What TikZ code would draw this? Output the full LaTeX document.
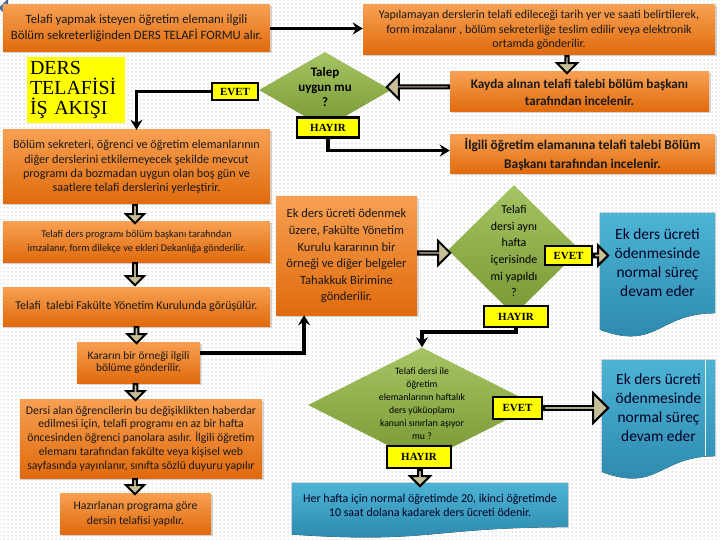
\documentclass[tikz,border=0pt]{standalone}
\usepackage{fontspec}
\setmainfont{Carlito}
\newfontfamily\tnr{Liberation Serif}
\usetikzlibrary{shapes.geometric,shapes.arrows,calc,patterns.meta,shadows,arrows.meta}
\definecolor{orTop}{HTML}{F7A052}
\definecolor{orBot}{HTML}{E06A0C}
\definecolor{grTop}{HTML}{A6C463}
\definecolor{grBot}{HTML}{789834}
\definecolor{blTop}{HTML}{4DB4D4}
\definecolor{blBot}{HTML}{2A86AC}
\definecolor{tanfill}{HTML}{C7BF98}
\definecolor{ylw}{HTML}{FFFF00}
\definecolor{arrBlue}{HTML}{4F81BD}
\pgfdeclarelayer{back}
\pgfdeclarelayer{docs}
\pgfsetlayers{back,docs,main}
\tikzset{
  obox/.style={rectangle, top color=orTop, bottom color=orBot, align=center, inner sep=1pt, text=black!90,
    drop shadow={opacity=0.3, shadow xshift=1.5bp, shadow yshift=-1.5bp}},
  dia/.style={diamond, top color=grTop, bottom color=grBot, inner sep=0pt, aspect=1},
  tag/.style={rectangle, fill=ylw, draw=black, line width=2.2bp, inner sep=0pt, font=\tnr\bfseries\fontsize{11}{12}\selectfont},
  doc/.style={rectangle, align=center, inner sep=0pt, text=black!85!blue},
  barrow/.style={single arrow, draw=black, line width=2bp, fill=tanfill, inner sep=0pt},
  conn/.style={line width=3.5bp, -{Stealth[length=10bp,width=12bp]}},
}
\begin{document}
\begin{tikzpicture}[x=1bp,y=-1bp]
\useasboundingbox (0,0) rectangle (720,540);
\begin{pgfonlayer}{back}
\fill[white] (0,0) rectangle (720,540);
\fill[pattern={Dots[distance=4bp,radius=0.5bp]}, pattern color=black!50] (0,0) rectangle (720,540);
\end{pgfonlayer}

% top-left blue arrow
\node[single arrow, shape border rotate=180, fill=arrBlue, draw=arrBlue!70!black, line width=1bp,
  minimum height=82bp, minimum width=16bp, single arrow head extend=3.5bp, inner sep=0pt] (backarrow) at (41,8) {};

% orange boxes
\node[obox, minimum width=267bp, minimum height=47bp, font=\fontsize{12.8}{16}\selectfont] (A) at (136.5,28.5)
  {Telafi yapmak isteyen öğretim elemanı ilgili\\Bölüm sekreterliğinden DERS TELAFİ FORMU alır.};
\node[obox, minimum width=352bp, minimum height=50bp, font=\fontsize{12}{14.5}\selectfont] (B) at (539,30)
  {Yapılamayan derslerin telafi edileceği tarih yer ve saati belirtilerek,\\form imzalanır , bölüm sekreterliğe teslim edilir veya elektronik\\ortamda gönderilir.};
\node[obox, minimum width=259bp, minimum height=40bp, font=\bfseries\fontsize{13.2}{17}\selectfont] (C) at (579.5,92)
  {Kayda alınan telafi talebi bölüm başkanı\\tarafından incelenir.};
\node[obox, minimum width=265bp, minimum height=39bp, font=\bfseries\fontsize{13.4}{19}\selectfont] (E) at (582.5,154.5)
  {İlgili öğretim elamanına telafi talebi Bölüm\\Başkanı tarafından incelenir.};
\node[obox, minimum width=267bp, minimum height=74bp, font=\fontsize{12.2}{14.3}\selectfont] (D) at (136.5,167)
  {Bölüm sekreteri, öğrenci ve öğretim elemanlarının\\diğer derslerini etkilemeyecek şekilde mevcut\\programı da bozmadan uygun olan boş gün ve\\saatlere telafi derslerini yerleştirir.};
\node[obox, minimum width=267bp, minimum height=40bp, font=\fontsize{10.3}{14}\selectfont] (F) at (136.5,242)
  {Telafi ders programı bölüm başkanı tarafından\\imzalanır, form dilekçe ve ekleri Dekanlığa gönderilir.};
\node[obox, minimum width=267bp, minimum height=39bp, font=\fontsize{12}{13}\selectfont] (G) at (136.5,306.5)
  {Telafi\ \ talebi Fakülte Yönetim Kurulunda görüşülür.};
\node[obox, minimum width=123bp, minimum height=41bp, font=\fontsize{11.5}{13}\selectfont] (H) at (138.5,362.5)
  {Kararın bir örneği ilgili\\bölüme gönderilir.};
\node[obox, minimum width=242bp, minimum height=79bp, font=\fontsize{11.8}{13.8}\selectfont] (I) at (141,438.5)
  {Dersi alan öğrencilerin bu değişiklikten haberdar\\edilmesi için, telafi programı en az bir hafta\\öncesinden öğrenci panolara asılır. İlgili öğretim\\elemanı tarafından fakülte veya kişisel web\\sayfasında yayınlanır, sınıfta sözlü duyuru yapılır};
\node[obox, minimum width=151bp, minimum height=41bp, font=\fontsize{11.8}{15}\selectfont] (J) at (135.5,513.5)
  {Hazırlanan programa göre\\dersin telafisi yapılır.};
\node[obox, minimum width=141bp, minimum height=118bp, font=\fontsize{12.6}{16.6}\selectfont] (K) at (346.5,256)
  {Ek ders ücreti ödenmek\\üzere, Fakülte Yönetim\\Kurulu kararının bir\\örneği ve diğer belgeler\\Tahakkuk Birimine\\gönderilir.};

% title
\node[fill=ylw, minimum width=98bp, minimum height=66bp, text width=92bp, align=left, inner sep=3bp,
  font=\tnr\fontsize{20}{20}\selectfont] (title) at (76,90) {DERS\\TELAFİSİ\\İŞ AKIŞI};

% blue document boxes
\node[doc, minimum width=115bp, minimum height=100bp, font=\fontsize{15.5}{19}\selectfont] (L) at (657.5,263)
  {Ek ders ücreti\\ödenmesinde\\normal süreç\\devam eder};
\node[doc, minimum width=113bp, minimum height=96bp, font=\fontsize{15.5}{19}\selectfont] (M) at (658.5,408)
  {Ek ders ücreti\\ödenmesinde\\normal süreç\\devam eder};
\node[doc, minimum width=276bp, minimum height=44bp, font=\fontsize{12}{14}\selectfont] (N) at (430,505)
  {Her hafta için normal öğretimde 20, ikinci öğretimde\\10 saat dolana kadarek ders ücreti ödenir.};
\begin{pgfonlayer}{docs}
\fill[top color=blTop, bottom color=blBot] (L.north west) -- (L.north east) -- (L.south east)
  .. controls (L.south) and ($(L.south)+(0,38)$) .. ($(L.south west)+(0,16.5)$) -- cycle;
\fill[top color=blTop, bottom color=blBot] (M.north west) -- (M.north east) -- (M.south east)
  .. controls (M.south) and ($(M.south)+(0,36.7)$) .. ($(M.south west)+(0,15.8)$) -- cycle;
\draw[white!85!blTop, line width=0.8bp] ($(M.north east)+(-10,0)$) -- ($(M.south east)+(-10,0)$);
\fill[top color=blTop, bottom color=blBot] (N.north west) -- (N.north east) -- (N.south east)
  .. controls (N.south) and ($(N.south)+(0,16.8)$) .. ($(N.south west)+(0,7.3)$) -- cycle;
\end{pgfonlayer}

% diamonds
\node[dia, minimum width=132bp, minimum height=76bp,
  label={[yshift=3bp, align=center, font=\bfseries\fontsize{13}{15}\selectfont]center:{Talep\\uygun mu\\?}}] (d1) at (325,90) {};
\node[dia, minimum width=132bp, minimum height=130bp,
  label={[yshift=-1bp, align=center, font=\fontsize{12}{16.8}\selectfont]center:{Telafi\\dersi aynı\\hafta\\içerisinde\\mi yapıldı\\?}}] (d2) at (514,250) {};
\node[dia, minimum width=228bp, minimum height=115bp,
  label={[yshift=1bp, align=center, font=\fontsize{9.8}{13}\selectfont]center:{Telafi dersi ile\\öğretim\\elemanlarının haftalık\\ders yüküoplamı\\kanuni sınırları aşıyor\\mu ?}}] (d3) at (422,405) {};

% tags
\node[tag, minimum width=46bp, minimum height=17bp] (evet1) at (235,91.5) {EVET};
\node[tag, minimum width=62bp, minimum height=20bp] (hayir1) at (328,127.5) {HAYIR};
\node[tag, minimum width=47bp, minimum height=19bp] (evet2) at (568.5,255.5) {EVET};
\node[tag, minimum width=64bp, minimum height=21bp] (hayir2) at (516,316.5) {HAYIR};
\node[tag, minimum width=49bp, minimum height=22bp] (evet3) at (517.5,408) {EVET};
\node[tag, minimum width=64bp, minimum height=22bp] (hayir3) at (419,457) {HAYIR};

% block arrows
\node[barrow, shape border rotate=270, anchor=tail, minimum height=17bp, minimum width=20bp, single arrow head extend=5bp] (ba1) at ($(B.south)+(28,0)$) {};
\node[barrow, shape border rotate=180, anchor=tail, minimum height=62bp, minimum width=24bp, single arrow head extend=7bp] (ba2) at ($(C.west)+(0,-5)$) {};
\node[barrow, shape border rotate=270, anchor=tail, minimum height=18bp, minimum width=18bp, single arrow head extend=4bp] (ba3) at ($(D.south)+(-1.5,0)$) {};
\node[barrow, shape border rotate=270, anchor=tail, minimum height=22bp, minimum width=18bp, single arrow head extend=4bp] (ba4) at ($(F.south)+(-1.5,0)$) {};
\node[barrow, shape border rotate=270, anchor=tail, minimum height=16bp, minimum width=18bp, single arrow head extend=4bp] (ba5) at (G.south) {};
\node[barrow, shape border rotate=270, anchor=tail, minimum height=16bp, minimum width=18bp, single arrow head extend=4bp] (ba6) at ($(H.south)+(-3,0)$) {};
\node[barrow, shape border rotate=270, anchor=tail, minimum height=15bp, minimum width=18bp, single arrow head extend=4bp] (ba7) at ($(I.south)+(-6,0)$) {};
\node[barrow, anchor=tail, minimum height=32bp, minimum width=24bp, single arrow head extend=6bp] (ba8) at ($(K.east)+(0,-3)$) {};
\node[barrow, anchor=tail, minimum height=14bp, minimum width=20bp, single arrow head extend=4.5bp] (ba9) at (evet2.east) {};
\node[barrow, anchor=tail, minimum height=64bp, minimum width=30bp, single arrow head extend=7.5bp] (ba10) at (evet3.east) {};
\node[barrow, shape border rotate=270, anchor=tail, minimum height=16bp, minimum width=20bp, single arrow head extend=4.5bp] (ba11) at ($(hayir3.south)+(1,0)$) {};

% connectors
\draw[conn] (A.east) -- (A.east -| B.west);
\draw[conn] (evet1.west) -| (D.north);
\draw[conn] (hayir1.south) |- ($(E.north west)!0.4!(E.south west)$);
\draw[conn] ($(H.north east)!0.27!(H.south east)$) -| ($(K.south west)!0.2!(K.south east)$);
\draw[conn] (hayir2.south) -- ++(0,4) -| (d3.north);
\end{tikzpicture}
\end{document}
